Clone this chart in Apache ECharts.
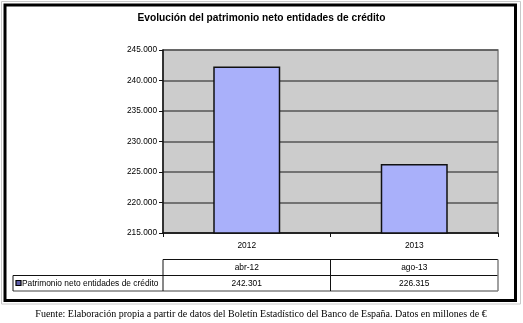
<!DOCTYPE html>
<html>
<head>
<meta charset="utf-8">
<script src="https://cdn.jsdelivr.net/npm/echarts@6/dist/echarts.min.js"></script>
<style>
  html, body { margin: 0; padding: 0; background: #fff; }
  #chart { width: 523px; height: 323px; }
</style>
</head>
<body>
<div id="chart"></div>
<script>
// Chart data
const titleText = 'Evolución del patrimonio neto entidades de crédito';
const years = ['2012', '2013'];
const periods = ['abr-12', 'ago-13'];
const values = [242301, 226315];
const seriesName = 'Patrimonio neto entidades de crédito';
const yMin = 215000;
const yMax = 245000;
const yStep = 5000;
const sourceText = 'Fuente: Elaboración propia a partir de datos del Boletín Estadístico del Banco de España. Datos en millones de €';

const SANS = '"Liberation Sans", Arial, sans-serif';
const SERIF = '"Liberation Serif", "Times New Roman", serif';

// Spanish-style thousands separator
function fmt(v) {
  return String(Math.round(v)).replace(/\B(?=(\d{3})+(?!\d))/g, '.');
}

const chart = echarts.init(document.getElementById('chart'), null, { renderer: 'canvas' });

const grid = { left: 163, right: 25, top: 50, bottom: 90 };

chart.setOption({
  backgroundColor: '#ffffff',
  animation: false,
  title: {
    text: titleText,
    left: 'center',
    top: 8,
    textStyle: { fontFamily: SANS, fontSize: 10.2, fontWeight: 'bold', color: '#000' }
  },
  grid: {
    left: grid.left, right: grid.right, top: grid.top, bottom: grid.bottom,
    show: true, backgroundColor: '#cccccc', borderColor: '#808080', borderWidth: 1.5
  },
  xAxis: {
    type: 'category',
    data: years,
    axisLine: { lineStyle: { color: '#111', width: 1.5 } },
    axisTick: { show: true, length: 4, lineStyle: { color: '#111', width: 1 } },
    axisLabel: { fontFamily: SANS, fontSize: 8.4, color: '#000', margin: 9 }
  },
  yAxis: {
    type: 'value',
    min: yMin, max: yMax, interval: yStep,
    axisLine: { show: true, lineStyle: { color: '#111', width: 1.5 } },
    axisTick: { show: true, length: 4, lineStyle: { color: '#111' } },
    axisLabel: { fontFamily: SANS, fontSize: 8.3, color: '#000', margin: 6, formatter: fmt },
    splitLine: { lineStyle: { color: '#555555', width: 1.6 } }
  },
  series: [{
    name: seriesName,
    type: 'bar',
    data: values,
    barWidth: '40%',
    itemStyle: { color: '#a9b0fa', borderColor: '#111', borderWidth: 1.5 }
  }]
});

// Data table under the axis, columns aligned with the category bands
const plotLeft = grid.left, plotRight = 523 - grid.right;
const c0 = chart.convertToPixel({ xAxisIndex: 0 }, 0);
const c1 = chart.convertToPixel({ xAxisIndex: 0 }, 1);
const mid = (c0 + c1) / 2;
const rowTop = 259.5, rowMid = 275.5, rowBot = 291;
const line = (x1, y1, x2, y2, color, w) => ({
  type: 'line', silent: true,
  shape: { x1, y1, x2, y2 },
  style: { stroke: color || '#111', lineWidth: w || 1 }
});
const txt = (x, y, text, align, font, size, color) => ({
  type: 'text', silent: true, x, y,
  style: { text, fill: color || '#000', font: size + 'px ' + font, align: align, verticalAlign: 'middle' }
});

const graphics = [
  // outer page frames
  { type: 'rect', silent: true, shape: { x: 1.5, y: 1.5, width: 519, height: 302.5 }, style: { fill: null, stroke: '#c8c8c8', lineWidth: 1 } },
  { type: 'rect', silent: true, shape: { x: 5, y: 5, width: 510.5, height: 295.5 }, style: { fill: null, stroke: '#000', lineWidth: 3 } },
  // table grid
  line(plotLeft, rowTop, plotRight, rowTop),
  line(13, rowMid, plotRight, rowMid),
  line(13, rowBot, plotRight, rowBot, '#808080', 1.5),
  line(13, rowMid, 13, rowBot),
  line(plotLeft, rowTop, plotLeft, rowBot),
  line(mid, rowTop, mid, rowBot),
  line(plotRight, rowTop, plotRight, rowBot, '#808080', 1.5),
  // legend key
  { type: 'rect', silent: true, shape: { x: 16, y: 280.5, width: 5, height: 5 }, style: { fill: '#5c5ca8', stroke: '#000', lineWidth: 1.2 } },
  txt(22, (rowMid + rowBot) / 2, seriesName, 'left', SANS, 8.4)
];

years.forEach((y, i) => {
  const cx = chart.convertToPixel({ xAxisIndex: 0 }, i);
  graphics.push(txt(cx, (rowTop + rowMid) / 2, periods[i], 'center', SANS, 8.4));
  graphics.push(txt(cx, (rowMid + rowBot) / 2, fmt(values[i]), 'center', SANS, 8.4));
});

// source note below the frame
graphics.push(txt(261, 314, sourceText, 'center', SERIF, 10, '#000'));

chart.setOption({ graphic: graphics });
</script>
</body>
</html>
